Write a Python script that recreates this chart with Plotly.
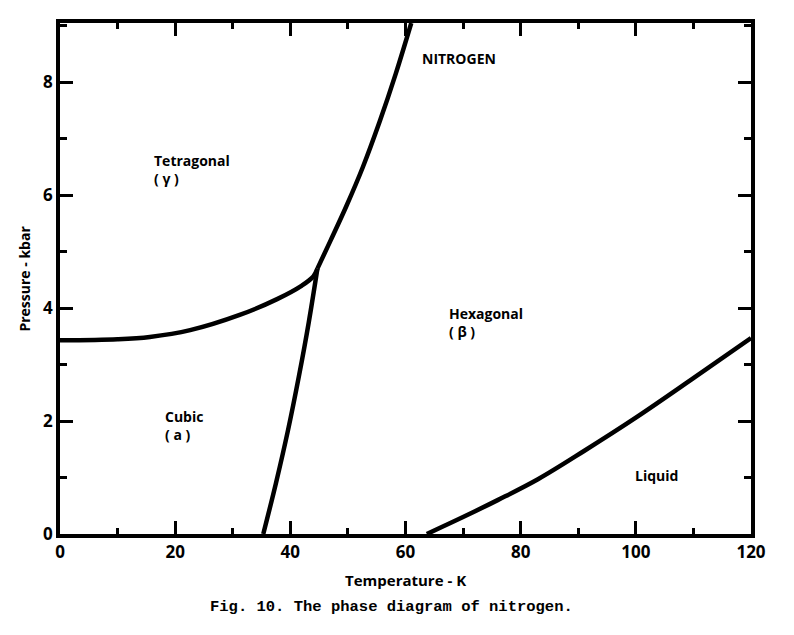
import plotly.graph_objects as go

# Phase boundaries (Temperature K, Pressure kbar)
cubic_tetra_T = [0, 10, 15.6, 22.6, 31.2, 37.7, 42.0, 44.0, 44.7]
cubic_tetra_P = [3.43, 3.45, 3.49, 3.61, 3.88, 4.16, 4.40, 4.56, 4.70]

cubic_hex_T = [35.3, 37.5, 39.6, 41.5, 43.2, 44.7]
cubic_hex_P = [0.0, 0.90, 1.84, 2.80, 3.75, 4.70]

tetra_hex_T = [44.7, 47.0, 49.7, 52.6, 55.5, 58.3, 61.0]
tetra_hex_P = [4.70, 5.20, 5.80, 6.50, 7.30, 8.15, 9.05]

melt_T = [63.7, 70.0, 76.0, 83.0, 91.0, 100.0, 110.0, 120.0]
melt_P = [0.0, 0.30, 0.60, 0.97, 1.47, 2.06, 2.76, 3.47]

labels = ["NITROGEN", "Tetragonal<br>( γ )", "Cubic<br>( a )", "Hexagonal<br>( β )", "Liquid"]
label_T = [62.5, 16.0, 17.9, 67.2, 99.5]
label_P = [8.42, 6.45, 1.93, 3.75, 1.04]

x_ticks = [0, 20, 40, 60, 80, 100, 120]
y_ticks = [0, 2, 4, 6, 8]

FONT = "Open Sans"

fig = go.Figure()
for T, P in [(cubic_tetra_T, cubic_tetra_P), (cubic_hex_T, cubic_hex_P),
             (tetra_hex_T, tetra_hex_P), (melt_T, melt_P)]:
    fig.add_trace(go.Scatter(x=T, y=P, mode="lines",
                             line=dict(color="black", width=4.5, shape="spline", smoothing=1.0),
                             showlegend=False, hoverinfo="skip", cliponaxis=True))

for txt, t, p in zip(labels, label_T, label_P):
    fig.add_annotation(x=t, y=p, text="<b>" + txt + "</b>", showarrow=False,
                       xanchor="left", yanchor="middle", align="left",
                       font=dict(family=FONT, size=14, color="black"))

axis_common = dict(showgrid=False, zeroline=False, showline=True, linecolor="black",
                   linewidth=3.5, mirror="ticks", ticks="inside", tickcolor="black",
                   tickwidth=2.5, ticklen=13,
                   tickfont=dict(family=FONT, size=17, color="black"))

fig.update_xaxes(range=[0, 120], tickvals=x_ticks, ticktext=[f"<b>{v}</b>" for v in x_ticks],
                 minor=dict(ticks="inside", dtick=10, ticklen=6, tickwidth=2.5, tickcolor="black"),
                 **axis_common)
fig.update_yaxes(range=[0, 9.05], tickvals=y_ticks, ticktext=[f"<b>{v}</b>" for v in y_ticks],
                 minor=dict(ticks="inside", dtick=1, ticklen=7, tickwidth=2.5, tickcolor="black"),
                 **axis_common)

fig.add_annotation(xref="paper", yref="paper", x=0.5, y=-0.09, text="<b>Temperature - K</b>",
                   showarrow=False, xanchor="center", yanchor="middle",
                   font=dict(family=FONT, size=15, color="black"))
fig.add_annotation(xref="paper", yref="paper", x=-0.052, y=0.5, text="<b>Pressure - kbar</b>",
                   showarrow=False, textangle=-90, xanchor="center", yanchor="middle",
                   font=dict(family=FONT, size=14, color="black"))
fig.add_annotation(xref="paper", yref="paper", x=0.48, y=-0.143,
                   text="<b>Fig. 10. The phase diagram of nitrogen.</b>",
                   showarrow=False, xanchor="center", yanchor="middle",
                   font=dict(family="Liberation Mono", size=15.5, color="black"))

fig.update_layout(width=794, height=635, margin=dict(l=60, r=43, t=23, b=101),
                  paper_bgcolor="white", plot_bgcolor="white")

fig.write_html("out.html")
